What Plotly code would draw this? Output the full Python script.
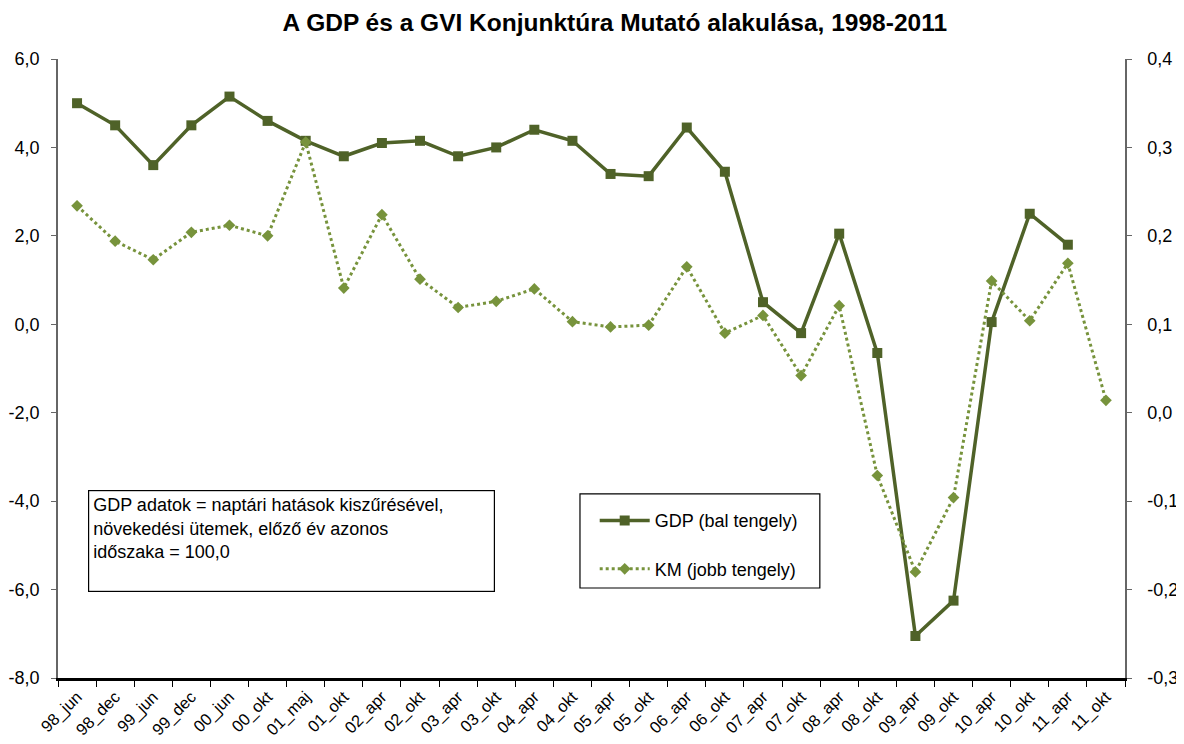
import plotly.graph_objects as go

periods = [
    "98_jun", "98_dec", "99_jun", "99_dec", "00_jun", "00_okt", "01_maj", "01_okt",
    "02_apr", "02_okt", "03_apr", "03_okt", "04_apr", "04_okt", "05_apr", "05_okt",
    "06_apr", "06_okt", "07_apr", "07_okt", "08_apr", "08_okt", "09_apr", "09_okt",
    "10_apr", "10_okt", "11_apr", "11_okt",
]

# GDP growth (left axis), no value yet for 11_okt
gdp = [
    5.0, 4.5, 3.6, 4.5, 5.15, 4.6, 4.15, 3.8,
    4.1, 4.15, 3.8, 4.0, 4.4, 4.15, 3.4, 3.35,
    4.45, 3.45, 0.5, -0.2, 2.05, -0.65, -7.05, -6.25,
    0.05, 2.5, 1.8, None,
]

# GVI business indicator (right axis)
km = [
    0.234, 0.194, 0.173, 0.204, 0.212, 0.200, 0.306, 0.141,
    0.224, 0.151, 0.119, 0.126, 0.140, 0.103, 0.097, 0.099,
    0.165, 0.090, 0.110, 0.042, 0.121, -0.071, -0.180, -0.096,
    0.149, 0.104, 0.169, 0.014,
]

left_ticks = [-8, -6, -4, -2, 0, 2, 4, 6]
left_labels = ["-8,0", "-6,0", "-4,0", "-2,0", "0,0", "2,0", "4,0", "6,0"]
right_ticks = [-0.3, -0.2, -0.1, 0.0, 0.1, 0.2, 0.3, 0.4]
right_labels = ["-0,3", "-0,2", "-0,1", "0,0", "0,1", "0,2", "0,3", "0,4"]

note_lines = [
    "GDP adatok = naptári hatások kiszűrésével,",
    "növekedési ütemek, előző év azonos",
    "időszaka = 100,0",
]

GDP_COLOR = "#4F6228"
KM_COLOR = "#77933C"
FONT = "Liberation Sans, Arial, sans-serif"

fig = go.Figure()
fig.add_trace(
    go.Scatter(
        x=periods,
        y=gdp,
        name="GDP (bal tengely)",
        legendgroup="gdp",
        mode="lines+markers",
        line={"color": GDP_COLOR, "width": 3.5},
        marker={"symbol": "square", "size": 10, "color": GDP_COLOR},
        yaxis="y",
    )
)
fig.add_trace(
    go.Scatter(
        x=periods,
        y=km,
        name="KM (jobb tengely)",
        legendgroup="km",
        mode="lines+markers",
        line={"color": KM_COLOR, "width": 3, "dash": "dot"},
        marker={"symbol": "diamond", "size": 9, "color": KM_COLOR},
        yaxis="y2",
    )
)

axis_common = {
    "ticks": "outside",
    "ticklen": 5,
    "showline": True,
    "showgrid": False,
    "zeroline": False,
    "automargin": False,
}

# the page body has an 8px margin, so the figure is sized to fit the window
fig.update_layout(
    width=1176,
    height=736,
    margin={"l": 50, "r": 59, "t": 51, "b": 66},
    paper_bgcolor="white",
    plot_bgcolor="white",
    font={"family": FONT, "size": 18, "color": "black"},
    title={
        "text": "<b>A GDP és a GVI Konjunktúra Mutató alakulása, 1998-2011</b>",
        "x": 0.516,
        "xanchor": "center",
        "xref": "container",
        "y": 1 - 14 / 736,
        "yanchor": "middle",
        "yref": "container",
        "font": {"size": 24.5, "family": FONT},
    },
    xaxis={
        **axis_common,
        "type": "category",
        "range": [-0.5, 27.5],
        "tickson": "boundaries",
        "ticklen": 6,
        "tickcolor": "black",
        "linecolor": "black",
        "linewidth": 2.5,
        "tickangle": -45,
        "tickfont": {"size": 16.5},
    },
    yaxis={
        **axis_common,
        "range": [-8, 6],
        "tickvals": left_ticks,
        "ticktext": left_labels,
        "tickcolor": "#666666",
        "linecolor": "#666666",
        "linewidth": 1.5,
        "ticklabelstandoff": 8,
        "tickfont": {"size": 18},
    },
    yaxis2={
        **axis_common,
        "range": [-0.3, 0.4],
        "tickvals": right_ticks,
        "ticktext": right_labels,
        "overlaying": "y",
        "side": "right",
        "tickcolor": "#666666",
        "linecolor": "#666666",
        "linewidth": 1.5,
        "ticklabelstandoff": 12,
        "tickfont": {"size": 18},
    },
    legend={
        "x": 0.503,
        "y": 0.284,
        "xanchor": "left",
        "yanchor": "top",
        "bgcolor": "rgba(0,0,0,0)",
        "borderwidth": 0,
        "font": {"size": 18},
        "tracegroupgap": 22,
        "itemwidth": 50,
    },
    shapes=[
        {
            "type": "rect",
            "xref": "paper",
            "yref": "paper",
            "x0": 0.4892,
            "x1": 0.714,
            "y0": 0.1454,
            "y1": 0.2973,
            "line": {"color": "black", "width": 1.2},
            "fillcolor": "white",
            "layer": "below",
        }
    ],
    annotations=[
        {
            "text": "<br>".join(note_lines),
            "xref": "paper",
            "yref": "paper",
            "x": 0.0281,
            "y": 0.3037,
            "xanchor": "left",
            "yanchor": "top",
            "align": "left",
            "valign": "top",
            "showarrow": False,
            "width": 397,
            "height": 92,
            "bordercolor": "black",
            "borderwidth": 1.2,
            "borderpad": 4,
            "bgcolor": "white",
            "font": {"size": 18},
        }
    ],
)

fig.write_html("out.html")
